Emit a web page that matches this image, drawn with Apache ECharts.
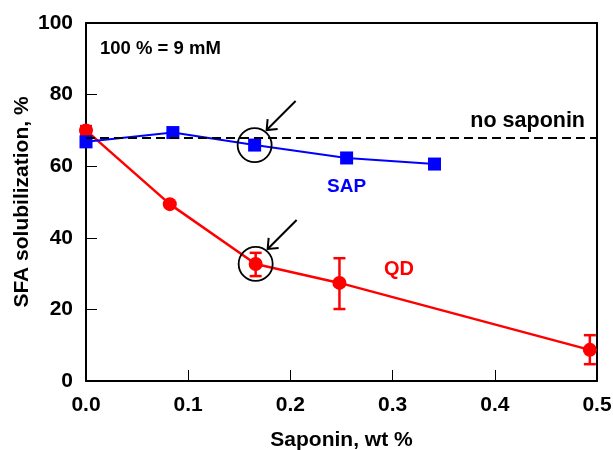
<!DOCTYPE html>
<html>
<head>
<meta charset="utf-8">
<script src="https://cdn.jsdelivr.net/npm/echarts@6/dist/echarts.min.js"></script>
<style>
  html, body { margin: 0; padding: 0; background: #fff; }
  #chart { width: 613px; height: 450px; }
</style>
</head>
<body>
<div id="chart"></div>
<script>
// Saponin concentration (wt %) and SFA solubilization (%)
const sapX = [0.0, 0.085, 0.165, 0.255, 0.341];
const sapY = [66.8, 69.4, 65.9, 62.3, 60.6];

const qdX = [0.0, 0.082, 0.166, 0.248, 0.493];
const qdY = [70.0, 49.4, 32.7, 27.4, 8.7];
const qdErrLow = [68.8, 49.4, 29.3, 20.1, 4.7];
const qdErrHigh = [71.2, 49.4, 35.8, 34.3, 12.8];

const noSaponinLevel = 68;

// Points singled out with a circle and an arrow
const highlighted = [[0.165, 65.9], [0.166, 32.7]];

const xTicks = ['0.0', '0.1', '0.2', '0.3', '0.4', '0.5'];
const yTicks = ['0', '20', '40', '60', '80', '100'];

const FONT = '"Liberation Sans", Arial, sans-serif';

const chart = echarts.init(document.getElementById('chart'), null, { renderer: 'canvas' });

const errData = qdX.map((x, i) => [x, qdErrLow[i], qdErrHigh[i]]);

const option = {
  animation: false,
  backgroundColor: '#fff',
  grid: { left: 86, right: 16, top: 23, bottom: 69, containLabel: false, outerBoundsMode: 'none' },
  xAxis: [{
    type: 'value', min: 0, max: 0.5, interval: 0.1,
    name: 'Saponin, wt %', nameLocation: 'middle', nameGap: 49, nameMoveOverlap: false,
    nameTextStyle: { fontFamily: FONT, fontWeight: 'bold', fontSize: 21, color: '#000' },
    axisLine: { lineStyle: { color: '#000', width: 2 } },
    axisTick: { inside: true, length: 11, lineStyle: { color: '#000', width: 1 } },
    axisLabel: {
      margin: 14, fontFamily: FONT, fontWeight: 'bold', fontSize: 21, color: '#000',
      formatter: v => xTicks[Math.round(v * 10)]
    },
    splitLine: { show: false }
  }, {
    type: 'value', position: 'top', min: 0, max: 0.5,
    axisLine: { onZero: false, lineStyle: { color: '#000', width: 2 } },
    axisTick: { show: false }, axisLabel: { show: false }, splitLine: { show: false }
  }],
  yAxis: [{
    type: 'value', min: 0, max: 100, interval: 20,
    name: 'SFA solubilization, %', nameLocation: 'middle', nameGap: 53, nameMoveOverlap: false,
    nameTextStyle: { fontFamily: FONT, fontWeight: 'bold', fontSize: 21, color: '#000' },
    axisLine: { show: true, lineStyle: { color: '#000', width: 2 } },
    axisTick: { show: true, inside: true, length: 11, lineStyle: { color: '#000', width: 1 } },
    axisLabel: {
      margin: 13, fontFamily: FONT, fontWeight: 'bold', fontSize: 21, color: '#000',
      formatter: v => yTicks[Math.round(v / 20)]
    },
    splitLine: { show: false }
  }, {
    type: 'value', position: 'right', min: 0, max: 100,
    axisLine: { show: true, onZero: false, lineStyle: { color: '#000', width: 2 } },
    axisTick: { show: false }, axisLabel: { show: false }, splitLine: { show: false }
  }],
  series: [
    {
      name: 'no saponin', type: 'line', data: [], silent: true,
      markLine: {
        silent: true, symbol: 'none',
        lineStyle: { color: '#000', type: [9, 5], width: 1.8 },
        label: { show: false },
        data: [{ yAxis: noSaponinLevel }]
      }
    },
    {
      name: 'QD', type: 'line',
      data: qdX.map((x, i) => [x, qdY[i]]),
      symbol: 'circle', symbolSize: 14,
      lineStyle: { color: '#ff0000', width: 2.5 },
      itemStyle: { color: '#ff0000' },
      z: 3
    },
    {
      name: 'QD error', type: 'custom',
      data: errData,
      renderItem: (params, api) => {
        const x = api.value(0);
        const lo = api.coord([x, api.value(1)]);
        const hi = api.coord([x, api.value(2)]);
        const cap = 6;
        const style = { stroke: '#ff0000', lineWidth: 2.5 };
        return {
          type: 'group',
          children: [
            { type: 'line', shape: { x1: lo[0], y1: lo[1], x2: hi[0], y2: hi[1] }, style },
            { type: 'line', shape: { x1: lo[0] - cap, y1: lo[1], x2: lo[0] + cap, y2: lo[1] }, style },
            { type: 'line', shape: { x1: hi[0] - cap, y1: hi[1], x2: hi[0] + cap, y2: hi[1] }, style }
          ]
        };
      },
      z: 3
    },
    {
      name: 'SAP', type: 'line',
      data: sapX.map((x, i) => [x, sapY[i]]),
      symbol: 'rect', symbolSize: 13,
      lineStyle: { color: '#0000ff', width: 2 },
      itemStyle: { color: '#0000ff' },
      z: 4
    },
    {
      name: 'callouts', type: 'custom',
      data: highlighted,
      renderItem: (params, api) => {
        const c = api.coord([api.value(0), api.value(1)]);
        const r = 17;
        const tip = [c[0] + 12, c[1] - 15];
        const tail = [c[0] + 41, c[1] - 44];
        const style = { stroke: '#000', lineWidth: 2, fill: null };
        return {
          type: 'group',
          children: [
            { type: 'circle', shape: { cx: c[0], cy: c[1], r }, style: { stroke: '#000', lineWidth: 1.8, fill: null } },
            { type: 'line', shape: { x1: tail[0], y1: tail[1], x2: tip[0], y2: tip[1] }, style },
            { type: 'polyline', shape: { points: [[tip[0] + 1, tip[1] - 11], tip, [tip[0] + 11, tip[1] - 1]] }, style }
          ]
        };
      },
      z: 5
    }
  ],
  graphic: [
    { type: 'text', left: 100, top: 39, style: { text: '100 % = 9 mM', font: 'bold 18.5px ' + FONT, fill: '#000' } },
    { type: 'text', right: 28, top: 110, style: { text: 'no saponin', font: 'bold 21.5px ' + FONT, fill: '#000' } },
    { type: 'text', left: 327, top: 177, style: { text: 'SAP', font: 'bold 19px ' + FONT, fill: '#0000ff' } },
    { type: 'text', left: 384, top: 259, style: { text: 'QD', font: 'bold 20px ' + FONT, fill: '#ff0000' } }
  ]
};

chart.setOption(option);
</script>
</body>
</html>
